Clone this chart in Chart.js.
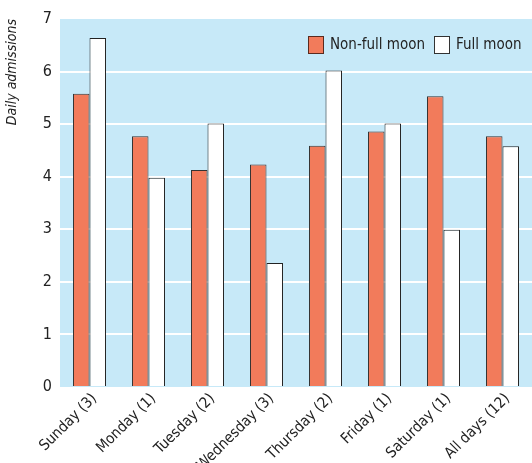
<!DOCTYPE html>
<html>
<head>
<meta charset="utf-8">
<script src="https://cdn.jsdelivr.net/npm/chart.js@4"></script>
<style>
html,body{margin:0;padding:0;background:#fff;}
#wrap{position:relative;width:532px;height:463px;}
</style>
</head>
<body>
<div id="wrap"><canvas id="c" width="532" height="463"></canvas></div>
<script>
const categories = ["Sunday (3)", "Monday (1)", "Tuesday (2)", "Wednesday (3)", "Thursday (2)", "Friday (1)", "Saturday (1)", "All days (12)"];
const nonFullMoon = [5.58, 4.77, 4.13, 4.23, 4.59, 4.86, 5.53, 4.77];
const fullMoon = [6.64, 3.98, 5.01, 2.36, 6.02, 5.01, 2.99, 4.58];
const seriesNames = ["Non-full moon", "Full moon"];
const yTicks = [0, 1, 2, 3, 4, 5, 6, 7];

const FONT = "'DejaVu Sans Condensed', 'Liberation Sans', Arial, sans-serif";
const ORANGE = "#f27b5b";
const BLUE = "#c7e9f8";

const bgPlugin = {
  id: 'bg',
  beforeDraw(chart) {
    const {ctx, chartArea: a} = chart;
    ctx.save();
    ctx.fillStyle = BLUE;
    ctx.fillRect(a.left, a.top, a.right - a.left, a.bottom - a.top);
    ctx.restore();
  }
};

const legendPlugin = {
  id: 'inLegend',
  afterDraw(chart) {
    const ctx = chart.ctx;
    ctx.save();
    ctx.font = "15px " + FONT;
    ctx.textBaseline = 'middle';
    ctx.textAlign = 'left';
    const items = [
      {x: 308, fill: ORANGE, stroke: '#5a2a1e', text: seriesNames[0]},
      {x: 434, fill: '#ffffff', stroke: '#333333', text: seriesNames[1]}
    ];
    items.forEach(it => {
      ctx.fillStyle = it.fill;
      ctx.fillRect(it.x, 36, 15, 17);
      ctx.strokeStyle = it.stroke;
      ctx.lineWidth = 1;
      ctx.strokeRect(it.x + 0.5, 36.5, 15, 17);
      ctx.fillStyle = '#222';
      ctx.fillText(it.text, it.x + 22, 45);
    });
    ctx.restore();
  }
};

new Chart(document.getElementById('c'), {
  type: 'bar',
  data: {
    labels: categories,
    datasets: [
      {label: seriesNames[0], data: nonFullMoon, backgroundColor: ORANGE, borderColor: '#333', borderWidth: 1, categoryPercentage: 0.56, barPercentage: 1},
      {label: seriesNames[1], data: fullMoon, backgroundColor: '#ffffff', borderColor: '#222', borderWidth: 1, categoryPercentage: 0.56, barPercentage: 1}
    ]
  },
  options: {
    responsive: false,
    animation: false,
    layout: {padding: {top: 19, right: 0, left: 0, bottom: 0}},
    plugins: {legend: {display: false}, tooltip: {enabled: false}},
    scales: {
      x: {
        grid: {display: false, drawTicks: false},
        border: {display: false},
        ticks: {
          color: '#222', font: {family: FONT, size: 15},
          maxRotation: 45, minRotation: 45, padding: 3, labelOffset: 5, autoSkip: false
        },
        afterFit(s) { s.height = 76; }
      },
      y: {
        min: 0, max: 7,
        afterBuildTicks(s) { s.ticks = yTicks.map(v => ({value: v})); },
        grid: {
          color: ctx => (ctx.tick && (ctx.tick.value === 0 || ctx.tick.value === 7)) ? 'rgba(0,0,0,0)' : '#ffffff',
          lineWidth: 2, drawTicks: false
        },
        border: {display: false},
        ticks: {color: '#222', font: {family: FONT, size: 16}, padding: 8},
        title: {display: true, text: 'Daily admissions', align: 'end', color: '#222', font: {family: FONT, size: 14, style: 'italic'}, padding: {top: 4, bottom: 4}},
        afterFit(s) { s.width = 60; }
      }
    }
  },
  plugins: [bgPlugin, legendPlugin]
});
</script>
</body>
</html>
